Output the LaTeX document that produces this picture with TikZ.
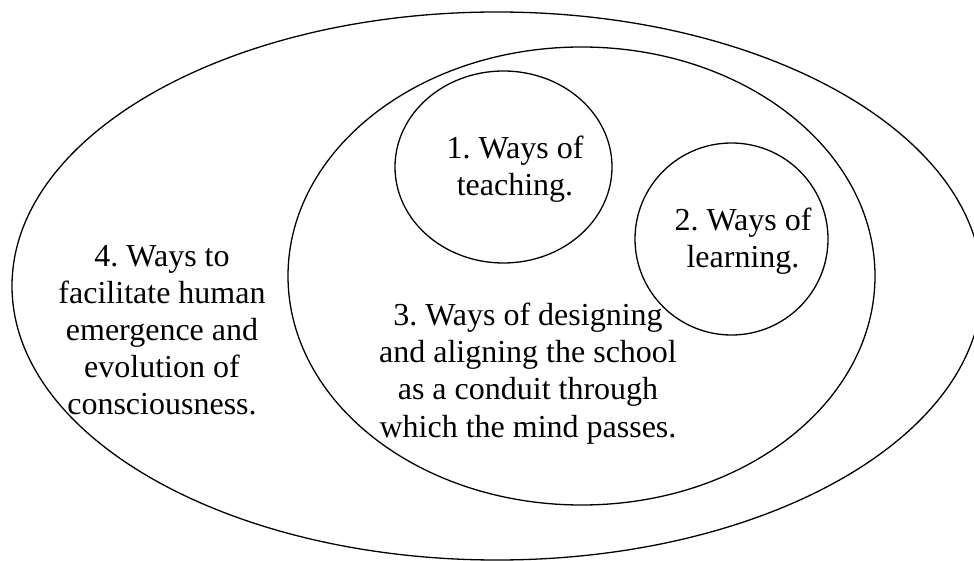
\documentclass[tikz,border=0pt]{standalone}
\usepackage{fontspec}
\setmainfont{Liberation Serif}
\frenchspacing
\begin{document}
\begin{tikzpicture}[x=1pt, y=-1pt,
  ring/.style={draw=black, line width=1.3pt},
  label/.style={align=center, inner sep=0pt, font=\fontsize{32}{37.1}\selectfont}]
  % page frame
  \fill[white] (0,0) rectangle (974,561);
  \clip (0,0) rectangle (974,561);

  % nested regions
  \draw[ring] (497,286) ellipse [x radius=485, y radius=274];
  \draw[ring] (581.5,276) ellipse [x radius=293.5, y radius=229];
  \draw[ring] (503.5,167) ellipse [x radius=108.5, y radius=96];
  \draw[ring] (731.5,239) ellipse [x radius=96.5, y radius=96];

  % texts
  \node[label] (teach) at (515,169) {1. Ways of\\teaching.};
  \node[label] (learn) at (743,241) {2. Ways of\\learning.};
  \node[label] (school) at (528,373.5) {3. Ways of designing\\and aligning the school\\as a conduit through\\which the mind passes.};
  \node[label] (human) at (162,330) {4. Ways to\\facilitate human\\emergence and\\evolution of\\consciousness.};
\end{tikzpicture}
\end{document}
